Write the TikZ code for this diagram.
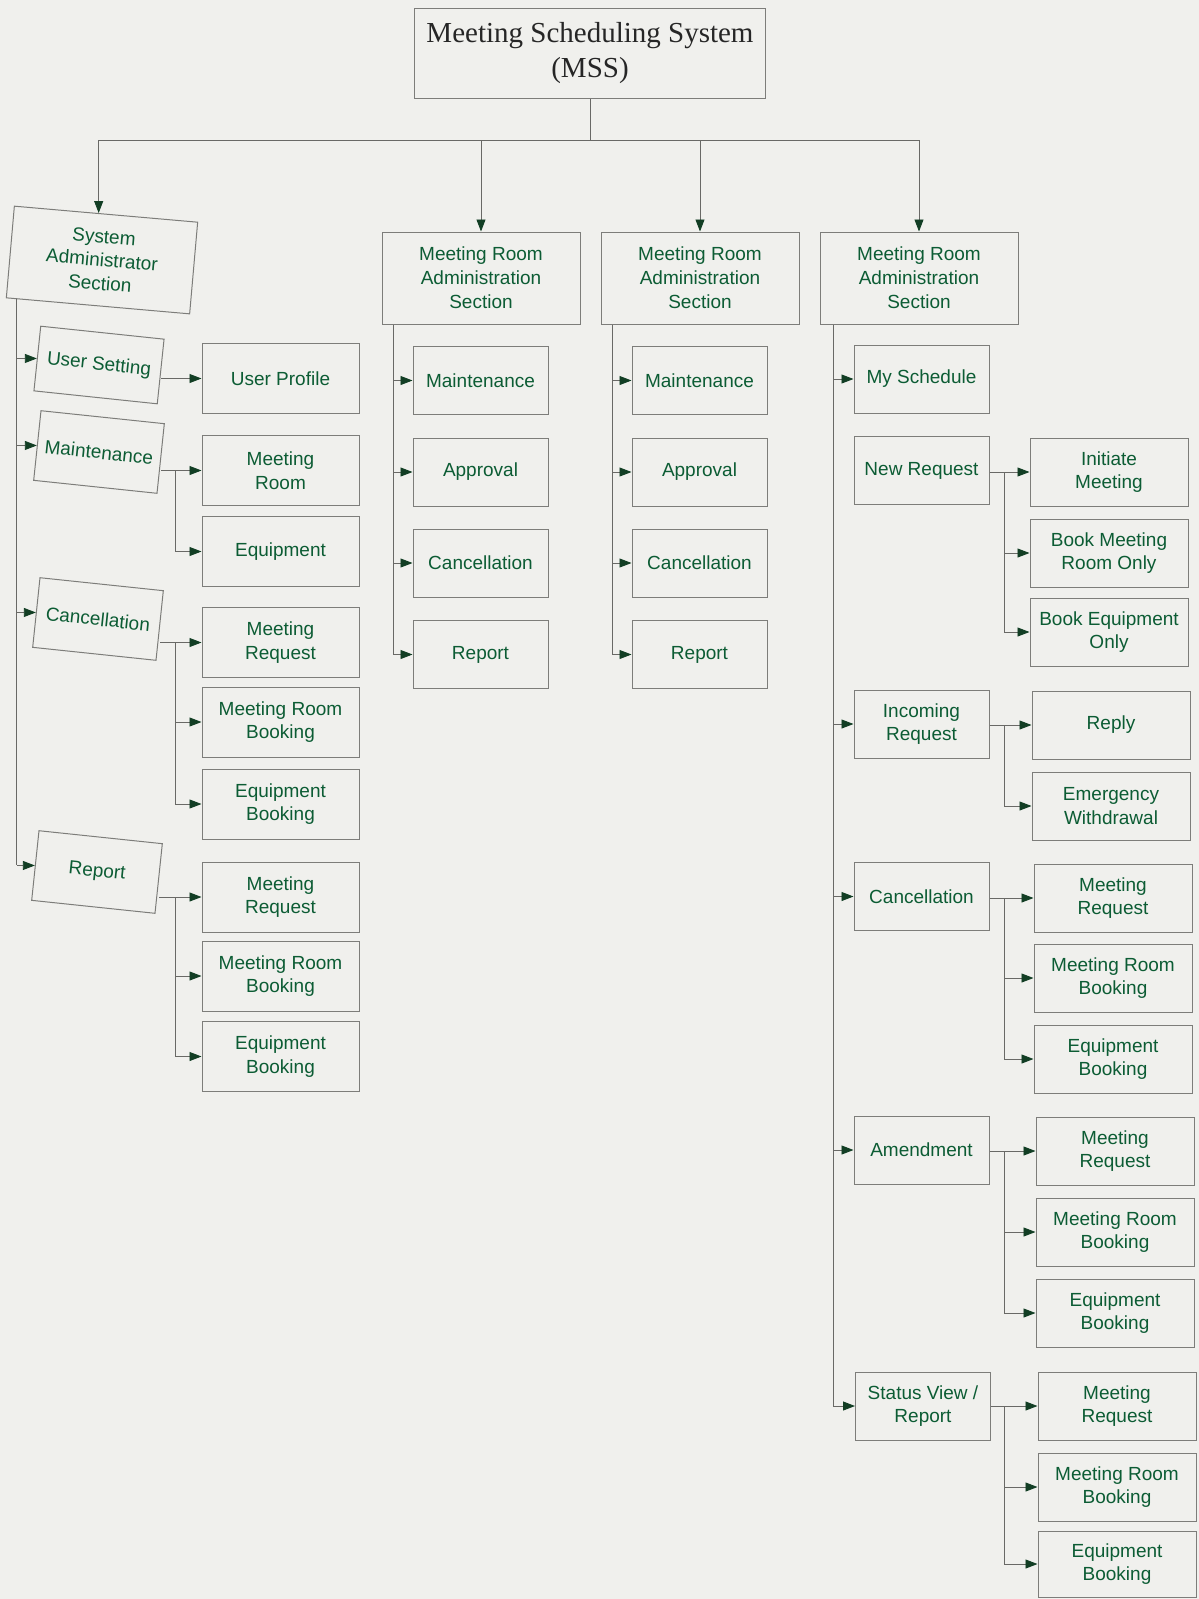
\documentclass[tikz,border=0pt]{standalone}
\usepackage{fontspec}
\setmainfont{Liberation Sans}
\newfontfamily\titlefont{Liberation Serif}
\usetikzlibrary{arrows.meta,calc}
\definecolor{bg}{RGB}{240,240,237}
\definecolor{txt}{RGB}{12,92,52}
\definecolor{edge}{RGB}{125,125,122}
\definecolor{wirec}{RGB}{105,105,102}
\definecolor{tipc}{RGB}{18,62,36}
\begin{document}
\begin{tikzpicture}[x=1pt,y=-1pt,
  box/.style={draw=edge, line width=1pt, text=txt, align=center, inner sep=0pt,
    font=\fontsize{19}{23.5}\selectfont, minimum height=70pt},
  lchild/.style={box, minimum width=157pt},
  mchild/.style={box, minimum width=135pt, minimum height=68pt},
  rchild/.style={box, minimum width=158pt, minimum height=68pt},
  lpar/.style={box, rotate=-6, minimum width=124pt, minimum height=70pt},
  sect/.style={box, minimum width=198pt, minimum height=92pt, font=\fontsize{19}{24}\selectfont},
  wire/.style={draw=wirec, line width=0.9pt},
  arr/.style={wire, -{Triangle[length=12pt,width=9pt,color=tipc]}}
]
\fill[bg] (0,0) rectangle (1199,1599);
\useasboundingbox (0,0) rectangle (1199,1599);

% title
\node[draw=edge, line width=1pt, minimum width=351pt, minimum height=90pt, align=center,
  inner sep=0pt, text=black!85, font=\titlefont\fontsize{29}{35}\selectfont] (mss) at (590,53)
  {Meeting Scheduling System\\(MSS)};

% sections
\node[box, rotate=-5, minimum width=184pt, minimum height=92pt, font=\fontsize{19}{23.5}\selectfont] (sas) at (102,260) {System\\Administrator\\Section};
\node[sect] (m1) at (481,278) {Meeting Room\\Administration\\Section};
\node[sect] (m2) at (700,278) {Meeting Room\\Administration\\Section};
\node[sect] (m3) at (919,278) {Meeting Room\\Administration\\Section};

% top connectors
\coordinate (top) at (590,140);
\coordinate (sasn) at ($(sas.north west)!0.46!(sas.north east)$);
\draw[wire] (mss.south) -- (top);
\draw[wire] (sasn |- top) -- (m3.north |- top);
\draw[arr] (sasn |- top) -- (sasn);
\draw[arr] (m1.north |- top) -- (m1.north);
\draw[arr] (m2.north |- top) -- (m2.north);
\draw[arr] (m3.north |- top) -- (m3.north);

% ---------- left column ----------
\node[lpar, minimum height=65pt] (us) at (99,365) {User Setting};
\node[lpar] (lmaint) at (99,452) {Maintenance};
\node[lpar] (lcanc) at (98,619) {Cancellation};
\node[lpar] (lrep) at (97,872) {Report};

\node[lchild] (up) at (280.5,378.5) {User Profile};
\node[lchild] (lmr) at (280.5,470.5) {Meeting\\Room};
\node[lchild] (leq) at (280.5,551.5) {Equipment};
\node[lchild] (lcq) at (280.5,642.5) {Meeting\\Request};
\node[lchild] (lcr) at (280.5,722) {Meeting Room\\Booking};
\node[lchild] (lce) at (280.5,804) {Equipment\\Booking};
\node[lchild] (lrq) at (280.5,897) {Meeting\\Request};
\node[lchild] (lrr) at (280.5,976) {Meeting Room\\Booking};
\node[lchild] (lre) at (280.5,1056.5) {Equipment\\Booking};

\coordinate (lt) at ($(sas.south west)!0.06!(sas.south east)$);
\draw[wire] (lt) -- (lt |- lrep.west);
\foreach \p in {us,lmaint,lcanc,lrep} \draw[arr] (lt |- \p.west) -- (\p.west);

\coordinate (lb) at (175,0);
\draw[arr] (us.east |- up.west) -- (up.west);
\draw[arr] (lmaint.east |- lmr.west) -- (lmr.west);
\draw[wire] (lb |- lmr.west) -- (lb |- leq.west);
\draw[arr] (lb |- leq.west) -- (leq.west);
\draw[arr] (lcanc.east |- lcq.west) -- (lcq.west);
\draw[wire] (lb |- lcq.west) -- (lb |- lce.west);
\foreach \c in {lcr,lce} \draw[arr] (lb |- \c.west) -- (\c.west);
\draw[arr] (lrep.east |- lrq.west) -- (lrq.west);
\draw[wire] (lb |- lrq.west) -- (lb |- lre.west);
\foreach \c in {lrr,lre} \draw[arr] (lb |- \c.west) -- (\c.west);

% ---------- middle columns ----------
\node[mchild] (am) at (480.5,380.5) {Maintenance};
\node[mchild] (aa) at (480.5,472) {Approval};
\node[mchild] (ac) at (480.5,563) {Cancellation};
\node[mchild] (ar) at (480.5,654.5) {Report};
\node[mchild] (bm) at (699.5,380.5) {Maintenance};
\node[mchild] (ba) at (699.5,472) {Approval};
\node[mchild] (bc) at (699.5,563) {Cancellation};
\node[mchild] (br) at (699.5,654.5) {Report};

\coordinate (at1) at ($(m1.south west)!0.06!(m1.south east)$);
\draw[wire] (at1) -- (at1 |- ar.west);
\foreach \c in {am,aa,ac,ar} \draw[arr] (at1 |- \c.west) -- (\c.west);
\coordinate (bt1) at ($(m2.south west)!0.06!(m2.south east)$);
\draw[wire] (bt1) -- (bt1 |- br.west);
\foreach \c in {bm,ba,bc,br} \draw[arr] (bt1 |- \c.west) -- (\c.west);

% ---------- right column ----------
\node[mchild] (ms) at (921.5,379) {My Schedule};
\node[mchild] (nr) at (921.5,470.5) {New Request};
\node[mchild] (ir) at (921.5,724) {Incoming\\Request};
\node[mchild] (rc) at (921.5,896.5) {Cancellation};
\node[mchild] (ra) at (921.5,1150) {Amendment};
\node[mchild] (sv) at (923,1406) {Status View /\\Report};

\node[rchild] (im) at (1109,472) {Initiate\\Meeting};
\node[rchild] (bmr) at (1109,553) {Book Meeting\\Room Only};
\node[rchild] (beq) at (1109,632) {Book Equipment\\Only};
\node[rchild] (rp) at (1111,725) {Reply};
\node[rchild] (ew) at (1111,806) {Emergency\\Withdrawal};
\node[rchild] (cq) at (1113,898) {Meeting\\Request};
\node[rchild] (cr) at (1113,978) {Meeting Room\\Booking};
\node[rchild] (ce) at (1113,1059) {Equipment\\Booking};
\node[rchild] (aq) at (1115,1151) {Meeting\\Request};
\node[rchild] (ab) at (1115,1232) {Meeting Room\\Booking};
\node[rchild] (ae) at (1115,1313) {Equipment\\Booking};
\node[rchild] (sq) at (1117,1406) {Meeting\\Request};
\node[rchild] (sr) at (1117,1487) {Meeting Room\\Booking};
\node[rchild, minimum height=66pt] (se) at (1117,1564) {Equipment\\Booking};

\coordinate (rt) at ($(m3.south west)!0.07!(m3.south east)$);
\draw[wire] (rt) -- (rt |- sv.west);
\foreach \c in {ms,ir,rc,ra,sv} \draw[arr] (rt |- \c.west) -- (\c.west);

\coordinate (rb) at (1004,0);
\draw[arr] (nr.east |- im.west) -- (im.west);
\draw[wire] (rb |- im.west) -- (rb |- beq.west);
\foreach \c in {bmr,beq} \draw[arr] (rb |- \c.west) -- (\c.west);
\draw[arr] (ir.east |- rp.west) -- (rp.west);
\draw[wire] (rb |- rp.west) -- (rb |- ew.west);
\draw[arr] (rb |- ew.west) -- (ew.west);
\draw[arr] (rc.east |- cq.west) -- (cq.west);
\draw[wire] (rb |- cq.west) -- (rb |- ce.west);
\foreach \c in {cr,ce} \draw[arr] (rb |- \c.west) -- (\c.west);
\draw[arr] (ra.east |- aq.west) -- (aq.west);
\draw[wire] (rb |- aq.west) -- (rb |- ae.west);
\foreach \c in {ab,ae} \draw[arr] (rb |- \c.west) -- (\c.west);
\draw[arr] (sv.east |- sq.west) -- (sq.west);
\draw[wire] (rb |- sq.west) -- (rb |- se.west);
\foreach \c in {sr,se} \draw[arr] (rb |- \c.west) -- (\c.west);
\end{tikzpicture}
\end{document}
